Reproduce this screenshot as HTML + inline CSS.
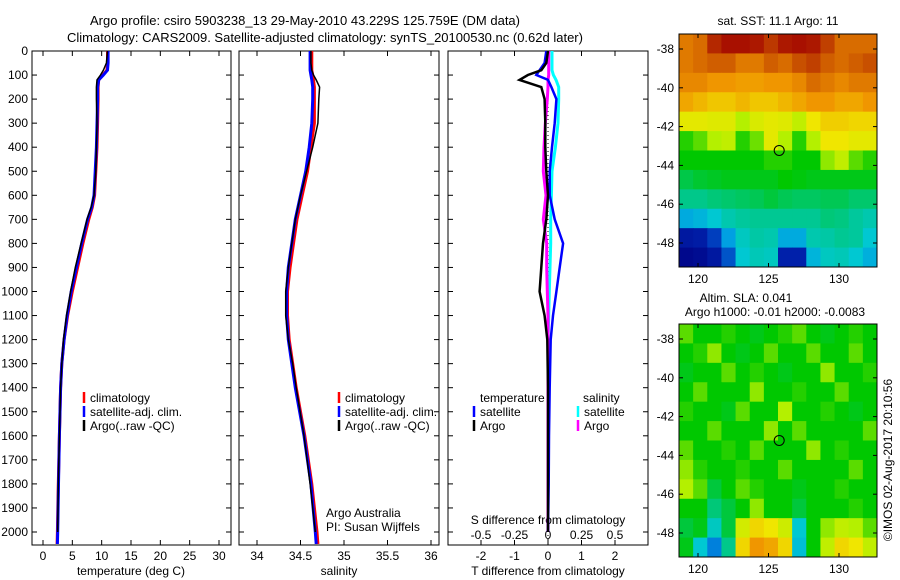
<!DOCTYPE html>
<html><head><meta charset="utf-8"><style>
html,body{margin:0;padding:0;background:#fff;}
svg{display:block;font-family:"Liberation Sans",sans-serif;font-size:12px;}
</style></head><body>
<svg id="s" width="900" height="580" xmlns="http://www.w3.org/2000/svg">
<text x="305" y="25" text-anchor="middle" font-size="13">Argo profile: csiro 5903238_13 29-May-2010 43.229S 125.759E (DM data)</text>
<text x="325" y="42" text-anchor="middle" font-size="13">Climatology: CARS2009. Satellite-adjusted climatology: synTS_20100530.nc (0.62d later)</text>
<text x="778" y="25" text-anchor="middle">sat. SST: 11.1 Argo: 11</text>
<text x="746" y="302" text-anchor="middle">Altim. SLA: 0.041</text>
<text x="775" y="316" text-anchor="middle">Argo h1000: -0.01 h2000: -0.0083</text>
<text transform="translate(892,460) rotate(-90)" text-anchor="middle">©IMOS 02-Aug-2017 20:10:56</text>
</svg>
<script>
// ---- data ----
const depthTick=[0,100,200,300,400,500,600,700,800,900,1000,1100,1200,1300,1400,1500,1600,1700,1800,1900,2000];
const tempTicks=[0,5,10,15,20,25,30];
const salTicks=[34,34.5,35,35.5,36];
const salTickLabels=["34","34.5","35","35.5","36"];
const tdTicks=[-2,-1,0,1,2];
const sdTicks=[-0.5,-0.25,0,0.25,0.5];
const sdTickLabels=["-0.5","-0.25","0","0.25","0.5"];
const profDepth=[0,50,80,100,120,150,200,300,400,500,600,650,700,800,900,1000,1100,1200,1300,1400,1600,1800,2000,2050];
const climT=[11,11,10.9,10.2,9.5,9.4,9.4,9.3,9.2,9.0,8.8,8.4,7.8,6.8,5.9,5.0,4.2,3.6,3.2,3.0,2.8,2.6,2.45,2.4];
const satT=[11.1,11.1,11,10.3,9.5,9.3,9.3,9.2,9.1,8.9,8.7,8.3,7.6,6.6,5.7,4.8,4.1,3.6,3.2,3.0,2.8,2.65,2.5,2.45];
const argoT=[11,10.8,10.3,9.8,9.2,9.1,9.1,9.2,9.1,9.0,8.7,8.2,7.5,6.5,5.5,4.7,4.0,3.5,3.2,3.0,2.8,2.6,2.5];
const climS=[34.63,34.63,34.63,34.64,34.65,34.66,34.66,34.66,34.62,34.58,34.52,34.49,34.46,34.42,34.38,34.35,34.35,34.37,34.41,34.45,34.55,34.63,34.69,34.7];
const satS=[34.61,34.61,34.61,34.62,34.63,34.64,34.64,34.63,34.6,34.56,34.5,34.47,34.44,34.4,34.36,34.34,34.34,34.36,34.4,34.44,34.54,34.62,34.67,34.68];
const argoS=[34.62,34.62,34.63,34.65,34.68,34.72,34.71,34.7,34.64,34.57,34.5,34.47,34.44,34.4,34.36,34.33,34.33,34.36,34.41,34.45,34.54,34.61,34.67];
const diffDepth=[0,50,80,100,120,150,200,300,400,500,600,700,800,900,1000,1100,1200,1400,1600,1800,2000];
const argoTd=[0,-0.05,-0.2,-0.6,-0.85,-0.2,-0.1,-0.08,-0.08,-0.05,0,-0.05,-0.15,-0.2,-0.25,-0.1,-0.02,0,0,0,0];
const satTd=[-0.05,-0.1,-0.25,-0.35,0,0.1,0.25,0.2,0.12,0.05,0.05,0.2,0.45,0.35,0.25,0.15,0.08,0.05,0.03,0.02,0];
const argoSd=[0.005,0.005,0.005,0.005,0,0,-0.005,-0.02,-0.03,-0.035,-0.015,-0.035,-0.01,-0.01,-0.005,0,0,0,0,0,0];
const satSd=[0.03,0.03,0.03,0.04,0.06,0.08,0.08,0.075,0.055,0.03,0.025,0.02,0.02,0.015,0.01,0.005,0,0,0,0,0];
const lonTicks=[120,125,130];
const latTicks=[-38,-40,-42,-44,-46,-48];
const floatLon=125.759, floatLat=-43.229;
const sstGrid=[
[0.84,0.86,0.95,0.98,0.98,0.97,0.93,0.97,0.98,0.97,0.92,0.86,0.86,0.86],
[0.84,0.86,0.88,0.88,0.84,0.84,0.88,0.86,0.9,0.92,0.88,0.86,0.88,0.9],
[0.82,0.82,0.8,0.8,0.79,0.79,0.8,0.8,0.82,0.86,0.84,0.82,0.84,0.84],
[0.78,0.76,0.74,0.74,0.76,0.74,0.74,0.76,0.78,0.8,0.8,0.78,0.78,0.8],
[0.68,0.68,0.67,0.67,0.6,0.66,0.68,0.67,0.62,0.7,0.73,0.73,0.72,0.72],
[0.52,0.55,0.6,0.62,0.52,0.56,0.68,0.6,0.52,0.6,0.7,0.7,0.68,0.68],
[0.5,0.5,0.5,0.5,0.5,0.5,0.52,0.52,0.5,0.5,0.58,0.62,0.55,0.52],
[0.44,0.46,0.47,0.48,0.48,0.48,0.48,0.5,0.49,0.48,0.48,0.48,0.48,0.48],
[0.38,0.38,0.4,0.41,0.42,0.43,0.45,0.43,0.42,0.42,0.43,0.43,0.41,0.41],
[0.24,0.26,0.3,0.34,0.36,0.37,0.37,0.37,0.37,0.37,0.4,0.39,0.36,0.34],
[0.06,0.07,0.12,0.22,0.32,0.35,0.34,0.24,0.24,0.34,0.35,0.37,0.36,0.3],
[0.02,0.03,0.06,0.14,0.3,0.33,0.32,0.08,0.08,0.26,0.32,0.33,0.3,0.25]];
const slaGrid=[
[0.55,0.5,0.5,0.52,0.5,0.48,0.5,0.52,0.55,0.5,0.48,0.5,0.52,0.5],
[0.5,0.52,0.58,0.5,0.48,0.5,0.55,0.5,0.5,0.55,0.5,0.5,0.55,0.5],
[0.48,0.5,0.5,0.55,0.5,0.52,0.5,0.48,0.5,0.5,0.58,0.5,0.5,0.52],
[0.5,0.55,0.5,0.5,0.5,0.58,0.5,0.5,0.52,0.5,0.5,0.55,0.5,0.5],
[0.52,0.5,0.5,0.48,0.55,0.5,0.5,0.6,0.5,0.5,0.52,0.5,0.48,0.5],
[0.5,0.5,0.55,0.5,0.5,0.5,0.58,0.5,0.55,0.5,0.5,0.5,0.5,0.55],
[0.55,0.5,0.5,0.52,0.5,0.55,0.5,0.5,0.5,0.58,0.5,0.52,0.5,0.5],
[0.58,0.52,0.5,0.5,0.52,0.5,0.5,0.55,0.5,0.5,0.5,0.5,0.55,0.5],
[0.6,0.55,0.45,0.5,0.55,0.52,0.5,0.5,0.48,0.5,0.5,0.52,0.5,0.5],
[0.5,0.5,0.4,0.45,0.5,0.58,0.5,0.5,0.45,0.5,0.5,0.5,0.52,0.5],
[0.45,0.48,0.32,0.45,0.65,0.72,0.7,0.64,0.3,0.5,0.58,0.62,0.6,0.55],
[0.48,0.3,0.18,0.38,0.72,0.8,0.78,0.72,0.28,0.5,0.62,0.72,0.7,0.62]];

// ---- helpers ----
const S=document.getElementById('s');
const NS="http://www.w3.org/2000/svg";
function mk(tag,attrs,parent){const e=document.createElementNS(NS,tag);for(const k in attrs)e.setAttribute(k,attrs[k]);(parent||S).appendChild(e);return e;}
const yTop=51, yPer=(532-51)/2000, yBot=545;
const yD=d=>yTop+d*yPer;
function lin(v0,p0,v1,p1){return v=>p0+(v-v0)*(p1-p0)/(v1-v0);}
const xT=lin(0,43,30,219), xS=lin(34,257,36,431), xTd=lin(0,548,2,615), xSd=lin(0,548,0.5,615);
const panels=[{l:32,r:231,n:'temperature-panel'},{l:239,r:439,n:'salinity-panel'},{l:448,r:648,n:'difference-panel'}];
function stepPath(xs,ds,xf){let p='';for(let i=0;i<xs.length;i++){const x=xf(xs[i]).toFixed(1),y=yD(ds[i]).toFixed(1);p+=(i?'L':'M')+x+' '+y;}return p;}
function line(xs,ds,xf,col,name,w){const e=mk('path',{d:stepPath(xs,ds,xf),fill:'none',stroke:col,'stroke-width':w||2.5});

}
function txt(x,y,s,anchor,name,extra){const e=mk('text',Object.assign({x:x,y:y,'text-anchor':anchor||'middle'},extra||{}));e.textContent=s;

return e;}

panels.forEach((p,pi)=>{
  const r=mk('rect',{x:p.l,y:yTop,width:p.r-p.l,height:yBot-yTop,fill:'none',stroke:'#000','stroke-width':1});
  
  
  depthTick.forEach(d=>{const y=yD(d);mk('line',{x1:p.l,x2:p.l+5,y1:y,y2:y,stroke:'#000'});mk('line',{x1:p.r-5,x2:p.r,y1:y,y2:y,stroke:'#000'});
    if(pi===0)txt(p.l-4,y+4,String(d),'end','depth-tick-label');});
});
tempTicks.forEach(v=>{const x=xT(v);mk('line',{x1:x,x2:x,y1:yBot,y2:yBot-5,stroke:'#000'});mk('line',{x1:x,x2:x,y1:yTop,y2:yTop+5,stroke:'#000'});txt(x,560,String(v),'middle','temperature-tick-label');});
salTicks.forEach((v,i)=>{const x=xS(v);mk('line',{x1:x,x2:x,y1:yBot,y2:yBot-5,stroke:'#000'});mk('line',{x1:x,x2:x,y1:yTop,y2:yTop+5,stroke:'#000'});txt(x,560,salTickLabels[i],'middle','salinity-tick-label');});
tdTicks.forEach(v=>{const x=xTd(v);mk('line',{x1:x,x2:x,y1:yBot,y2:yBot-5,stroke:'#000'});mk('line',{x1:x,x2:x,y1:yTop,y2:yTop+5,stroke:'#000'});txt(x,560,String(v),'middle','t-diff-tick-label');});
sdTicks.forEach((v,i)=>{const x=xSd(v);txt(x,539,sdTickLabels[i],'middle','s-diff-tick-label');});
txt(131,575,'temperature (deg C)','middle','x-axis-title-temperature');
txt(339,575,'salinity','middle','x-axis-title-salinity');
txt(548,575,'T difference from climatology','middle','x-axis-title-t-diff');
txt(548,524,'S difference from climatology','middle','x-axis-title-s-diff');
txt(326,517,'Argo Australia','start','credit-argo-australia');
txt(326,531,'PI: Susan Wijffels','start','credit-pi');

mk('line',{x1:xTd(0),x2:xTd(0),y1:yTop,y2:yBot,stroke:'#000','stroke-dasharray':'1,3'});

line(climT,profDepth,xT,'#f00','temperature-climatology-line',3);
line(satT,profDepth,xT,'#00f','temperature-satellite-line',3);
line(argoT,profDepth,xT,'#000','temperature-argo-line',1.5);
line(climS,profDepth,xS,'#f00','salinity-climatology-line',3);
line(satS,profDepth,xS,'#00f','salinity-satellite-line',3);
line(argoS,profDepth,xS,'#000','salinity-argo-line',1.5);
line(satSd,diffDepth,xSd,'#0ff','s-diff-satellite-line',3);
line(argoSd,diffDepth,xSd,'#f0f','s-diff-argo-line',3);
line(satTd,diffDepth,xTd,'#00f','t-diff-satellite-line',2.5);
line(argoTd,diffDepth,xTd,'#000','t-diff-argo-line',2.5);

function leg(x,y,col,label,name){const b=mk('line',{x1:x,x2:x,y1:y-11,y2:y,stroke:col,'stroke-width':2.5});


txt(x+6,y-1,label,'start',name);}
[[84,'#f00','climatology'],[84,'#00f','satellite-adj. clim.'],[84,'#000','Argo(..raw -QC)']].forEach((l,i)=>leg(l[0],403+i*14,l[1],l[2],'legend-entry'));
[[339,'#f00','climatology'],[339,'#00f','satellite-adj. clim.'],[339,'#000','Argo(..raw -QC)']].forEach((l,i)=>leg(l[0],403+i*14,l[1],l[2],'legend-entry'));
txt(480,402,'temperature','start','legend-header-temperature');
txt(583,402,'salinity','start','legend-header-salinity');
leg(474,417,'#00f','satellite','legend-entry');
leg(474,431,'#000','Argo','legend-entry');
leg(578,417,'#0ff','satellite','legend-entry');
leg(578,431,'#f0f','Argo','legend-entry');

// colormap
const cmap=[[0,0,130],[0,40,180],[0,150,230],[0,200,210],[0,200,120],[0,200,0],[180,240,0],[240,230,0],[240,150,0],[200,80,0],[160,0,0]];
function col(v){v=Math.max(0,Math.min(1,v))*10;const i=Math.min(9,Math.floor(v)),f=v-i;const a=cmap[i],b=cmap[i+1];
return `rgb(${Math.round(a[0]+(b[0]-a[0])*f)},${Math.round(a[1]+(b[1]-a[1])*f)},${Math.round(a[2]+(b[2]-a[2])*f)})`;}
function map(grid,top,bot,latA,yA,latB,yB,name){
  const L=679,R=877,rows=grid.length,cols=grid[0].length;
  const cw=(R-L)/cols,ch=(bot-top)/rows;
  const g=mk('g',{});
  
  
  grid.forEach((row,i)=>row.forEach((v,j)=>{const c=mk('rect',{x:L+j*cw,y:top+i*ch,width:cw+0.5,height:ch+0.5,fill:col(v)},g);
    
    }));
  const fr=mk('rect',{x:L,y:top,width:R-L,height:bot-top,fill:'none',stroke:'#000'});
  
  
  const xl=lin(120,698,130,839), yl=lin(latA,yA,latB,yB);
  lonTicks.forEach(v=>{const x=xl(v);mk('line',{x1:x,x2:x,y1:bot,y2:bot-4,stroke:'#000'});mk('line',{x1:x,x2:x,y1:top,y2:top+4,stroke:'#000'});txt(x,bot+16,String(v),'middle','lon-tick-label');});
  latTicks.forEach(v=>{const y=yl(v);mk('line',{x1:L,x2:L+4,y1:y,y2:y,stroke:'#000'});mk('line',{x1:R-4,x2:R,y1:y,y2:y,stroke:'#000'});txt(L-5,y+4,String(v),'end','lat-tick-label');});
  const m=mk('circle',{cx:xl(floatLon),cy:yl(floatLat),r:5,fill:'none',stroke:'#000'});
  
  
}
map(sstGrid,34,267,-38,49,-48,243,'sst-map');
map(slaGrid,324,557,-38,339,-48,533,'sla-map');
</script>
</body></html>
